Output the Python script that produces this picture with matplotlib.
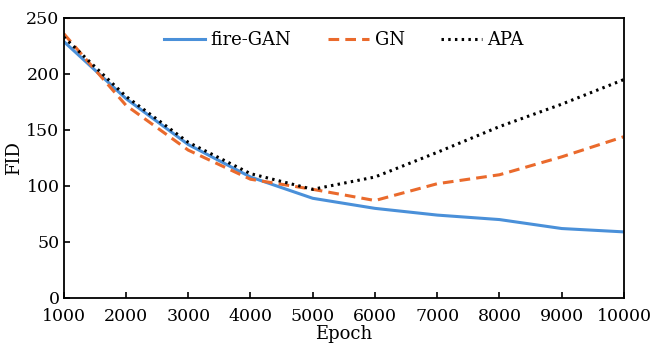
import matplotlib.pyplot as plt

epochs = [1000, 2000, 3000, 4000, 5000, 6000, 7000, 8000, 9000, 10000]
fire_gan = [229, 178, 137, 108, 89, 80, 74, 70, 62, 59]
gn = [236, 172, 132, 106, 97, 87, 102, 110, 126, 144]
apa = [233, 180, 139, 111, 97, 108, 130, 153, 173, 195]

plt.rcParams['font.family'] = ['DejaVu Serif']
plt.rcParams['font.size'] = 13

fig = plt.figure(figsize=(6.5, 3.51), dpi=100)
ax = fig.add_axes([0.098, 0.151, 0.862, 0.798])

ax.plot(epochs, fire_gan, color='#4a90d9', lw=2.2, label='fire-GAN')
ax.plot(epochs, gn, color='#ea6a2c', lw=2.2, ls=(0, (3.5, 2)), label='GN')
ax.plot(epochs, apa, color='black', lw=2.2, ls=(0, (0.8, 1.4)), label='APA')

ax.set_xlim(1000, 10000)
ax.set_ylim(0, 250)
ax.set_xticks(epochs)
ax.set_yticks([0, 50, 100, 150, 200, 250])
ax.tick_params(direction='in', length=4, width=1.2, labelsize=12.5)
ax.tick_params(axis='x', pad=7)
ax.tick_params(axis='y', pad=3)
for s in ax.spines.values():
    s.set_linewidth(1.3)

ax.set_xlabel('Epoch', labelpad=0)
ax.set_ylabel('FID', labelpad=2)
ax.legend(loc='upper center', ncol=3, frameon=False, handlelength=2.3,
          handletextpad=0.3, columnspacing=2.0, borderaxespad=0.35,
          fontsize=13)

fig.savefig('out.png', dpi=100)
